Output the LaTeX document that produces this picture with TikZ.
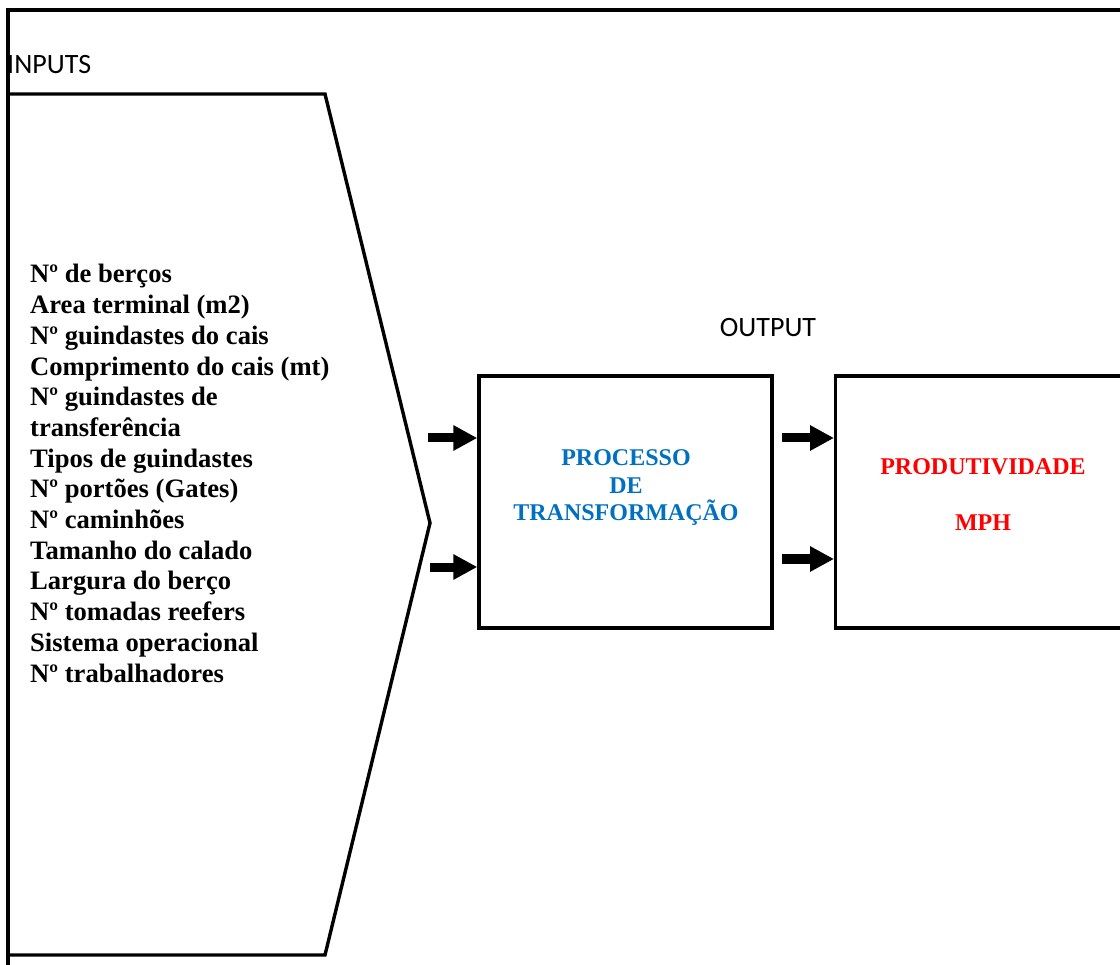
\documentclass[tikz,border=0pt]{standalone}
\usepackage{fontspec}
\setmainfont{Liberation Serif}
\newfontfamily\calibri{Carlito}
\usetikzlibrary{arrows.meta}
\definecolor{procblue}{HTML}{0070C0}
\definecolor{prodred}{HTML}{FF0000}
\tikzset{
  frameline/.style={line width=4pt, line cap=rect},
  shapeline/.style={line width=3.4pt, line join=miter},
  boxnode/.style={draw, line width=3.4pt, rectangle, inner sep=0pt},
  bigarrow/.style={line width=9pt, -{Triangle[length=24pt,width=24pt]}},
  sanslabel/.style={font=\calibri\fontsize{28}{30}\selectfont, inner sep=0pt},
  inlist/.style={font=\bfseries\fontsize{26.6}{30.7}\selectfont, align=left, inner sep=0pt},
  boxtext/.style={font=\bfseries\fontsize{24}{27.5}\selectfont, align=center, inner sep=0pt}
}
\begin{document}
\begin{tikzpicture}[x=1pt,y=-1pt]
\useasboundingbox (0,0) rectangle (1120,965);
\clip (0,0) rectangle (1120,965);
% outer frame
\coordinate (ftr) at (1125,10);
\coordinate (ftl) at (8,10);
\coordinate (fbl) at (8,970);
\draw[frameline] (ftr) -- (ftl) -- (fbl);
% input pentagon
\coordinate (p1) at (8,94);
\coordinate (p2) at (325,94);
\coordinate (p3) at (430,523);
\coordinate (p4) at (325,955);
\coordinate (p5) at (8,955);
\draw[shapeline] (p1) -- (p2) -- (p3) -- (p4) -- (p5);
% labels
\node[sanslabel, anchor=base west] (inputs) at (7,73.5) {INPUTS};
\node[sanslabel, anchor=base] (output) at (768,337) {OUTPUT};
% input list
\node[inlist, anchor=base west] (list) at (30,682) {Nº de berços\\Area terminal (m2)\\Nº guindastes do cais\\Comprimento do cais (mt)\\Nº guindastes de\\transferência\\Tipos de guindastes\\Nº portões (Gates)\\Nº caminhões\\Tamanho do calado\\Largura do berço\\Nº tomadas reefers\\Sistema operacional\\Nº trabalhadores};
% boxes
\node[boxnode, minimum width=293pt, minimum height=252pt] (proc) at (625.5,502) {};
\node[boxnode, minimum width=300pt, minimum height=252pt, anchor=west] (prod) at (834,502) {};
\node[boxtext, text=procblue, anchor=base] (proctext) at (626,521) {PROCESSO\\DE\\TRANSFORMAÇÃO};
\node[boxtext, text=prodred, anchor=base] (prodtext) at (983,530) {PRODUTIVIDADE\\[27.5pt]MPH};
% arrows
\coordinate (a1) at (428,438);
\coordinate (a2) at (430,567);
\coordinate (a3) at (782,438);
\coordinate (a4) at (782,559);
\draw[bigarrow] (a1) -- (a1 -| proc.west);
\draw[bigarrow] (a2) -- (a2 -| proc.west);
\draw[bigarrow] (a3) -- (a3 -| prod.west);
\draw[bigarrow] (a4) -- (a4 -| prod.west);
\end{tikzpicture}
\end{document}
